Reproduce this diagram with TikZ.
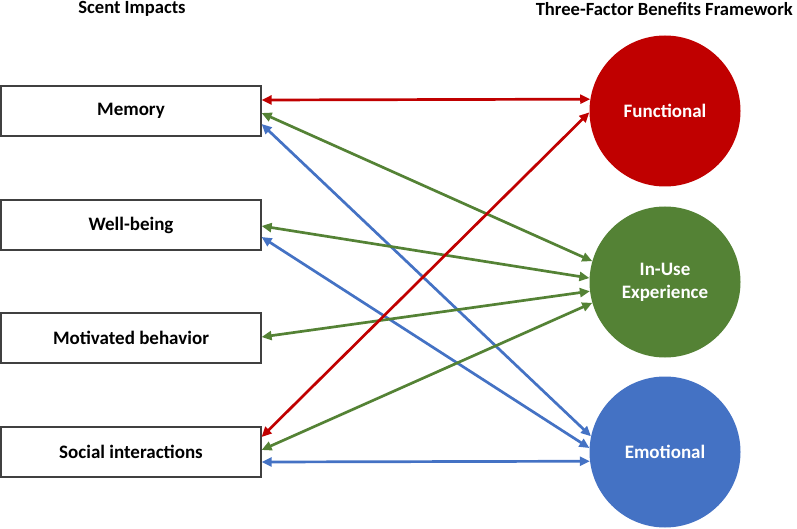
\documentclass[tikz,border=0pt]{standalone}
\usepackage{fontspec}
\setmainfont{Carlito}
\usetikzlibrary{arrows.meta}
\definecolor{cred}{HTML}{C00000}
\definecolor{cgreen}{HTML}{548235}
\definecolor{cblue}{HTML}{4472C4}
\definecolor{cedge}{HTML}{404040}
\tikzset{
  impact/.style={draw=cedge, line width=1.2pt, minimum width=260pt, minimum height=50pt, inner sep=0pt, font=\fontsize{19}{22}\selectfont\bfseries},
  benefit/.style={circle, minimum size=151pt, inner sep=0pt, text=white, align=center, font=\fontsize{19}{23}\selectfont\bfseries},
  title/.style={font=\fontsize{18.6}{21}\selectfont\bfseries, inner sep=0pt},
  link/.style={line width=2.7pt, {Triangle[length=10pt,width=9pt]}-{Triangle[length=10pt,width=9pt]}}
}
\begin{document}
\begin{tikzpicture}[x=1pt,y=-1pt]
\useasboundingbox (0,0) rectangle (797,529);
\node[title] (t1) at (132,9) {Scent Impacts};
\node[title, anchor=east] (t2) at (793,9) {Three-Factor Benefits Framework};

\node[impact] (mem) at (131,111) {Memory};
\node[impact] (well) at (131,225) {Well-being};
\node[impact] (mot) at (131,338) {Motivated behavior};
\node[impact] (soc) at (131,452) {Social interactions};

\node[benefit, fill=cred] (fun) at (665,111) {Functional};
\node[benefit, fill=cgreen] (use) at (665,282) {In-Use\\Experience};
\node[benefit, fill=cblue] (emo) at (665,452) {Emotional};

\draw[link, cred] ([yshift=11pt]mem.east) -- (fun.171.6);
\draw[link, cgreen] ([yshift=-2pt]mem.east) -- (use.164.6);
\draw[link, cblue] ([yshift=-13pt]mem.east) -- (emo.168.5);
\draw[link, cgreen] ([yshift=-1pt]well.east) -- (use.177.7);
\draw[link, cblue] ([yshift=-12pt]well.east) -- (emo.177);
\draw[link, cgreen] ([yshift=1pt]mot.east) -- (use.187.6);
\draw[link, cred] ([yshift=15pt]soc.east) -- (fun.181.5);
\draw[link, cgreen] ([yshift=2pt]soc.east) -- (use.196.2);
\draw[link, cblue] ([yshift=-10pt]soc.east) -- (emo.187.6);
\end{tikzpicture}
\end{document}
